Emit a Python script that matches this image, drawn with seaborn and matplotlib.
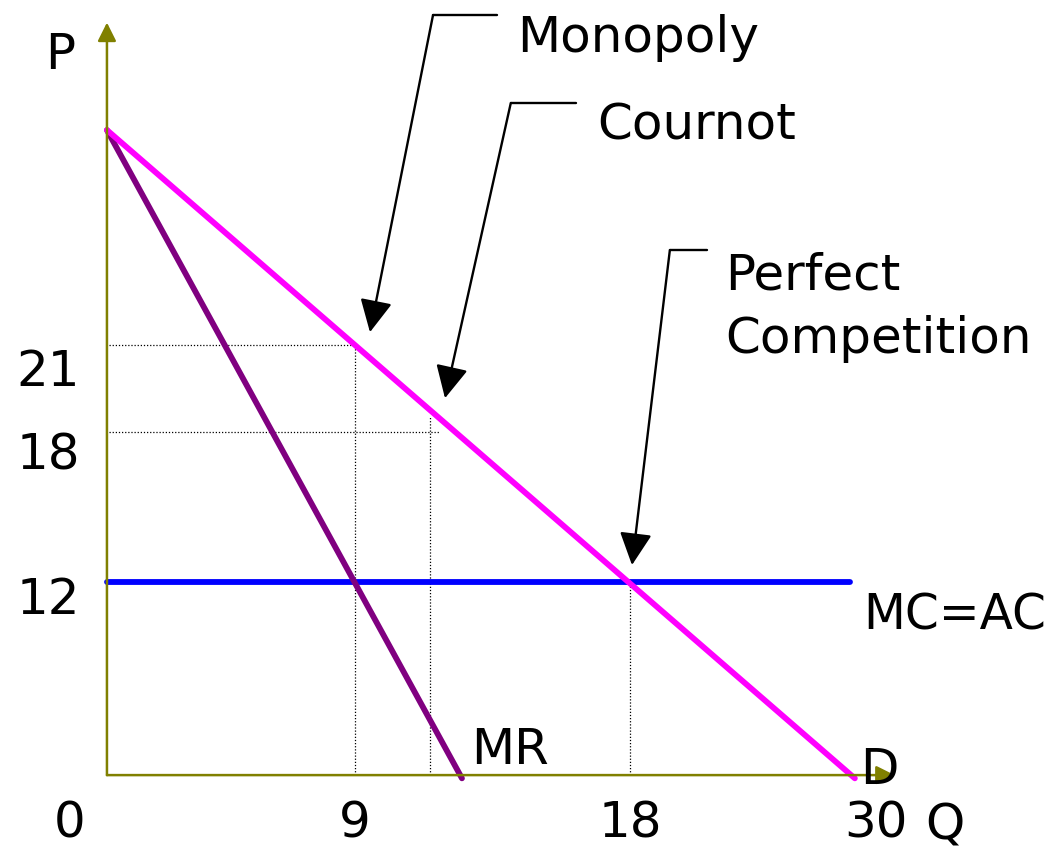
import matplotlib
matplotlib.use("Agg")
import matplotlib.pyplot as plt
import seaborn as sns

# Diagrama de duopolio de Cournot (unidades del diagrama, no a escala)

demanda_q = [0, 30]
demanda_p = [30, -0.15]

im_q = [0, 14.24]          # ingreso marginal (MR)
im_p = [30, -0.15]

cm_q = [0, 29.8]           # MC=AC
cm_p = [9.0, 9.0]

# puntos de equilibrio: monopolio, Cournot, competencia perfecta
eq_q = [9.95, 12.96, 20.98]
eq_p_vert = [20.0, 16.7, 9.0]      # tope de las punteadas verticales
eq_p_horiz = [20.0, 15.95]         # punteadas horizontales
eq_q_horiz = [9.95, 13.36]

etiquetas_q = ["0", "9", "18", "30"]
etiquetas_p = ["21", "18", "12"]

sns.set_style("white")
plt.rcParams["font.family"] = ["DejaVu Sans"]
plt.rcParams["text.color"] = "black"

fig = plt.figure(figsize=(10.64, 8.51), dpi=100)
ax = fig.add_axes([0, 0, 1, 1])
ax.set_xlim(-4.29, 38.39)
ax.set_ylim(-3.53, 36.05)
ax.axis("off")

# ejes con flecha
olivo = "#808000"
ax.annotate("", xy=(0, 35.0), xytext=(0, 0),
            arrowprops=dict(arrowstyle="-|>", color=olivo, lw=1.8,
                            mutation_scale=28, shrinkA=0, shrinkB=0))
ax.annotate("", xy=(31.6, 0), xytext=(0, 0),
            arrowprops=dict(arrowstyle="-|>", color=olivo, lw=1.8,
                            mutation_scale=28, shrinkA=0, shrinkB=0))

# líneas punteadas
punteo = dict(color="black", lw=0.9, linestyle=(0, (1, 1.5)))
for q, p in zip(eq_q, eq_p_vert):
    ax.plot([q, q], [0, p], **punteo)
for q, p in zip(eq_q_horiz, eq_p_horiz):
    ax.plot([0.1, q], [p, p], **punteo)

# curvas
sns.lineplot(x=cm_q, y=cm_p, ax=ax, color="#0000ff", lw=4.2)
sns.lineplot(x=im_q, y=im_p, ax=ax, color="#800080", lw=4.2)
sns.lineplot(x=demanda_q, y=demanda_p, ax=ax, color="#ff00ff", lw=4.2)

# flechas de las etiquetas
flechas = [
    ((15.64, 35.35), (13.08, 35.35), (10.55, 20.6)),
    ((18.81, 31.26), (16.2, 31.26), (13.56, 17.53)),
    ((24.07, 24.42), (22.58, 24.42), (21.06, 9.77)),
]
for fin, esquina, punta in flechas:
    ax.plot([fin[0], esquina[0]], [fin[1], esquina[1]], color="black", lw=1.7)
    ax.annotate("", xy=punta, xytext=esquina,
                arrowprops=dict(arrowstyle="-|>", color="black", lw=1.7,
                                mutation_scale=50, shrinkA=0, shrinkB=0))

fs = 36
ax.text(16.45, 34.28, "Monopoly", fontsize=fs, va="center", ha="left")
ax.text(19.65, 30.23, "Cournot", fontsize=fs, va="center", ha="left")
ax.text(24.79, 21.75, "Perfect\nCompetition", fontsize=fs, va="center",
        ha="left", linespacing=1.4)
ax.text(16.17, 1.16, "MR", fontsize=fs, va="center", ha="center")
ax.text(34.0, 7.44, "MC=AC", fontsize=fs - 1, va="center", ha="center")
ax.text(31.0, 0.23, "D", fontsize=fs, va="center", ha="center")
ax.text(-1.89, 33.5, "P", fontsize=fs, va="center", ha="center")
ax.text(33.6, -2.33, "Q", fontsize=fs, va="center", ha="center")

for etq, q in zip(etiquetas_q, [-1.48, 9.95, 20.98, 30.85]):
    ax.text(q, -2.25, etq, fontsize=fs, va="center", ha="center")
for etq, p in zip(etiquetas_p, [18.74, 14.88, 8.14]):
    ax.text(-2.35, p, etq, fontsize=fs, va="center", ha="center")

fig.savefig("out.png", dpi=100)
